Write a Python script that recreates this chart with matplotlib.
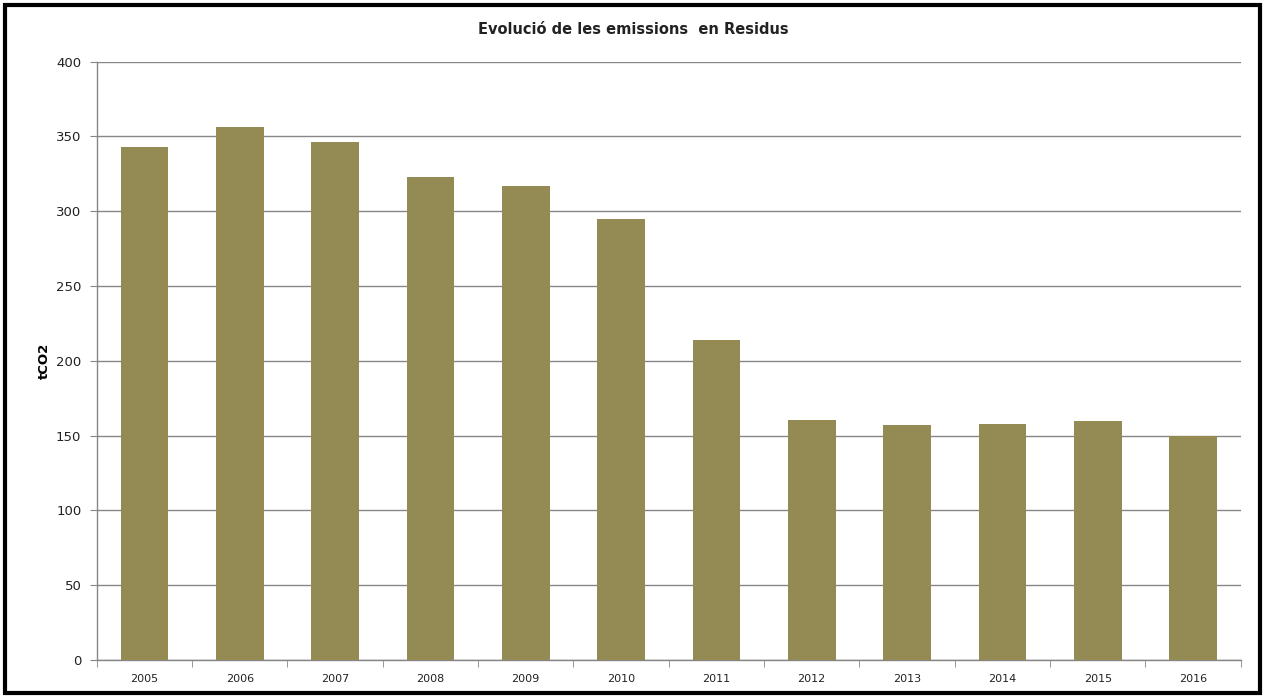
import matplotlib
matplotlib.use("Agg")
import matplotlib.pyplot as plt
from matplotlib.patches import Rectangle

years = ["2005", "2006", "2007", "2008", "2009", "2010",
         "2011", "2012", "2013", "2014", "2015", "2016"]
emissions = [343, 356.5, 346, 323, 317, 295, 214, 160.5, 157, 158, 160, 150]
yticks = [0, 50, 100, 150, 200, 250, 300, 350, 400]

W, H = 1268, 697
fig = plt.figure(figsize=(W / 100, H / 100), dpi=100)
fig.patch.set_facecolor("white")

left, right = 96.7 / W, 1240.7 / W
bottom, top = 1 - 660 / H, 1 - 61.7 / H
ax = fig.add_axes([left, bottom, right - left, top - bottom])

x = range(len(years))
ax.bar(x, emissions, width=0.5, color="#948A54", zorder=3)
ax.set_xlim(-0.5, len(years) - 0.5)
ax.set_ylim(0, 400)
ax.set_yticks(yticks)
ax.set_yticklabels([str(v) for v in yticks], fontsize=9.5, color="#222222")
ax.set_xticks(list(x))
ax.set_xticklabels(years, fontsize=8, color="#222222")
ax.tick_params(axis="x", length=0, pad=10)
ax.tick_params(axis="y", length=5, color="#868686", pad=6)
# category boundary ticks
ax.set_xticks([i - 0.5 for i in range(len(years) + 1)], minor=True)
ax.tick_params(axis="x", which="minor", length=5, color="#868686")

ax.yaxis.grid(True, color="#868686", linewidth=1, zorder=0)
for s in ["top", "right"]:
    ax.spines[s].set_visible(False)
for s in ["left", "bottom"]:
    ax.spines[s].set_color("#868686")
    ax.spines[s].set_linewidth(1)

ax.set_ylabel("tCO2", fontsize=9.5, fontweight="bold", labelpad=4)

fig.text(633 / W, 1 - 30 / H, "Evolució de les emissions  en Residus",
         ha="center", va="center", fontsize=10.5, fontweight="bold",
         color="#222222")

fig.patches.append(Rectangle((5 / W, 4 / H), (1260 - 5) / W, (692 - 4) / H,
                             transform=fig.transFigure, fill=False,
                             edgecolor="black", linewidth=3))

fig.savefig("out.png", dpi=100)
